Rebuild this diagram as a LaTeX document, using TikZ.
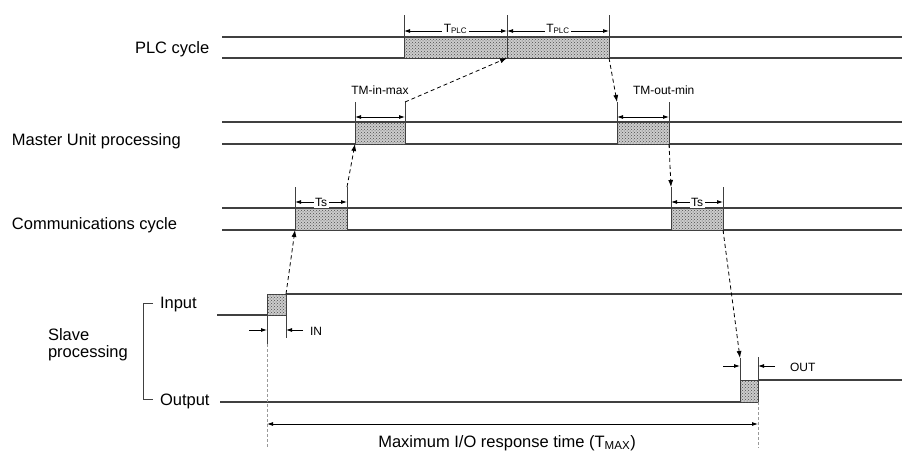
\documentclass[tikz,border=0pt]{standalone}
\usepackage{fontspec}
\setmainfont{Liberation Sans}
\usetikzlibrary{positioning, patterns, calc, arrows.meta}

\tikzset{
  lane/.style={line width=1.1pt, draw=black!75},
  tick/.style={line width=0.8pt, draw=black!75},
  ext/.style={line width=0.7pt, draw=black!40, dash pattern=on 3pt off 2pt},
  hatch/.style={draw=black!75, line width=0.8pt, fill=gray!40,
                postaction={pattern=crosshatch dots, pattern color=black!70},
                inner sep=0, outer sep=0, anchor=north west},
  dim/.style={{Latex[length=6pt,width=4pt]}-{Latex[length=6pt,width=4pt]}, line width=0.8pt},
  pinch/.style={-{Latex[length=6pt,width=4pt]}, line width=0.8pt},
  flow/.style={-{Latex[length=7pt,width=5pt]}, dash pattern=on 4pt off 3pt, line width=0.8pt},
  big/.style={font=\fontsize{16.5}{18}\selectfont, inner sep=0, outer sep=0},
  small/.style={font=\fontsize{12}{14}\selectfont, inner sep=0, outer sep=0},
  onbar/.style={font=\fontsize{12}{14}\selectfont, fill=white, inner sep=1.5pt}
}

\begin{document}
\begin{tikzpicture}[x=1pt,y=-1pt]
  \useasboundingbox (0,0) rectangle (902,452);

  % row labels
  \node(plc)[big, anchor=base west] at (135,53) {PLC cycle};
  \node(mu)[big, anchor=base west] at (12,145) {Master Unit processing};
  \node(cc)[big, anchor=base west] at (12,229) {Communications cycle};
  \node(slA)[big, anchor=base west] at (48,340) {Slave};
  \node(slB)[big, anchor=base west] at (48,357) {processing};
  \node(inp)[big, anchor=base west] at (160,308) {Input};
  \node(outp)[big, anchor=base west] at (160,405) {Output};
  \draw[tick] (153,303) -- (143,303) -- (143,399) -- (153,399);

  % time lines
  \draw[lane] (222,37) -- (902,37) (222,58) -- (902,58);
  \draw[lane] (222,122) -- (902,122) (222,144) -- (902,144);
  \draw[lane] (222,208) -- (902,208) (222,230) -- (902,230);

  % hatched intervals
  \node(plcA)[hatch, minimum width=103pt, minimum height=21pt] at (404,37) {};
  \node(plcB)[hatch, minimum width=102pt, minimum height=21pt] at (507,37) {};
  \node(muIn)[hatch, minimum width=50pt, minimum height=22pt] at (355,122) {};
  \node(muOut)[hatch, minimum width=52pt, minimum height=22pt] at (617,122) {};
  \node(ccIn)[hatch, minimum width=52pt, minimum height=22pt] at (295,208) {};
  \node(ccOut)[hatch, minimum width=52pt, minimum height=22pt] at (671,208) {};
  \node(slIn)[hatch, minimum width=19pt, minimum height=21pt] at (267,294) {};
  \node(slOut)[hatch, minimum width=18pt, minimum height=22pt] at (740,380) {};

  \draw[lane] (217,315) -- (slIn.south west);
  \draw[lane] (slIn.north east) -- (902,294);
  \draw[lane] (220,402) -- (slOut.south west);
  \draw[lane] (slOut.north east) -- (902,380);

  % PLC cycle
  \draw[tick] (plcA.south west) -- ++(0,-43) coordinate(plcAL);
  \draw[tick] (plcA.south east) -- ++(0,-43) coordinate(plcAR);
  \draw[tick] (plcB.south east) -- ++(0,-43) coordinate(plcBR);
  \draw[dim] ($(plcAL)+(0,16)$) -- ($(plcAR)+(0,16)$)
        node[onbar, midway, yshift=2pt]{T\textsubscript{PLC}};
  \draw[dim] ($(plcAR)+(0,16)$) -- ($(plcBR)+(0,16)$)
        node[onbar, midway, yshift=2pt]{T\textsubscript{PLC}};

  % master unit
  \draw[tick] (muIn.south west) -- ++(0,-42) coordinate(muInL);
  \draw[tick] (muIn.south east) -- ++(0,-42) coordinate(muInR);
  \draw[dim] ($(muInL)+(0,15)$) -- ($(muInR)+(0,15)$);
  \node(tmin)[small, anchor=base] at ($(muInL)!.5!(muInR)+(0,-7)$) {TM-in-max};
  \draw[tick] (muOut.south west) -- ++(0,-42) coordinate(muOutL);
  \draw[tick] ($(muOut.south east)+(0,4)$) -- ++(0,-46) coordinate(muOutR);
  \draw[dim] ($(muOutL)+(0,15)$) -- ($(muOutR)+(0,15)$);
  \node(tmout)[small, anchor=base west] at ($(muOutL)+(16,-8)$) {TM-out-min};

  % communications cycle
  \draw[tick] (ccIn.south west) -- ++(0,-43) coordinate(ccInL);
  \draw[tick] (ccIn.south east) -- ++(0,-43) coordinate(ccInR);
  \draw[dim] ($(ccInL)+(0,15)$) -- ($(ccInR)+(0,15)$) node[onbar, midway]{Ts};
  \draw[tick] (ccOut.south west) -- ++(0,-43) coordinate(ccOutL);
  \draw[tick] ($(ccOut.south east)+(0,4)$) -- ++(0,-47) coordinate(ccOutR);
  \draw[dim] ($(ccOutL)+(0,15)$) -- ($(ccOutR)+(0,15)$) node[onbar, midway]{Ts};

  % slave input
  \draw[tick] (slIn.north west) -- ++(0,50) coordinate(slInL);
  \draw[tick] (slIn.north east) -- ++(0,44);
  \draw[ext] (slInL) -- (slIn.west |- 0,448);
  \draw[pinch] ($(slIn.south west)+(-18,15)$) -- ($(slIn.south west)+(0,15)$);
  \draw[pinch] ($(slIn.south east)+(17,15)$) -- ($(slIn.south east)+(0,15)$);
  \node(inl)[small, anchor=base west] at (310,335) {IN};

  % slave output
  \draw[tick] (slOut.north west) -- ++(0,-22) coordinate(slOutL);
  \draw[tick] (slOut.south east) -- ++(0,-45);
  \draw[ext] (slOut.south east) -- (slOut.east |- 0,448);
  \draw[pinch] ($(slOut.north west)+(-17,-14)$) -- ($(slOut.north west)+(0,-14)$);
  \draw[pinch] ($(slOut.north east)+(17,-14)$) -- ($(slOut.north east)+(0,-14)$);
  \node(outl)[small, anchor=base west] at (790,371) {OUT};

  % response time
  \draw[dim] (slIn.west |- 0,424) -- (slOut.east |- 0,424);
  \node(tmax)[big, anchor=base] at (507,447) {Maximum I/O response time (T\textsubscript{MAX})};

  % signal path
  \draw[flow] (slIn.north east) -- (ccIn.south west);
  \draw[flow] (ccInR) -- (muIn.south west);
  \draw[flow] (muInR) -- (plcA.south east);
  \draw[flow] (plcB.south east) -- (muOutL);
  \draw[flow] (muOut.south east) -- (ccOutL);
  \draw[flow] (ccOut.south east) -- (slOutL);
\end{tikzpicture}
\end{document}
